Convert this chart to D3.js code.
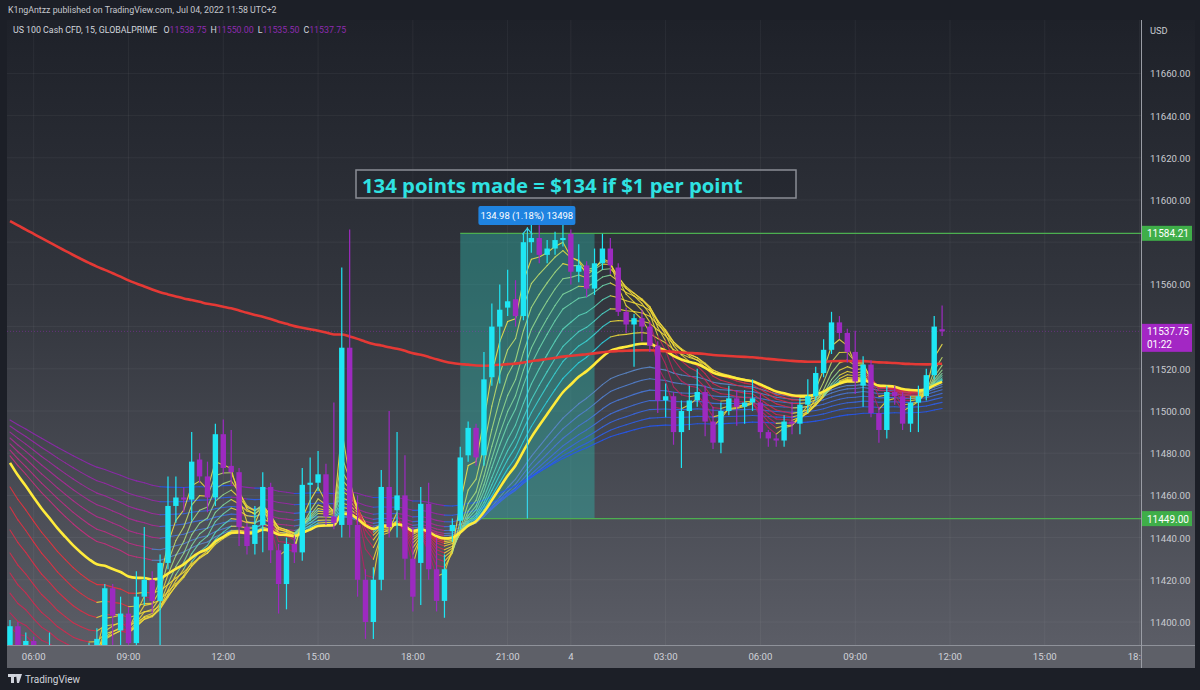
<!DOCTYPE html>
<html>
<head>
<meta charset="utf-8">
<script src="https://cdn.jsdelivr.net/npm/d3@7"></script>
<style>
  body { margin: 0; background: #1c1f27; }
  svg { display: block; font-family: Roboto, "Noto Sans", sans-serif; }
</style>
</head>
<body>
<svg id="chart" width="1200" height="690"></svg>
<script>
// US100 15m bars, first visible bar sits 3 bars before Friday 06:00
const firstPos = -3;

const open = [
  11386, 11398, 11388, 11391, 11380, 11378, 11383, 11376, 11380, 11378,
  11383, 11385, 11388, 11416, 11396, 11404, 11390, 11412, 11420, 11410,
  11428, 11455, 11459, 11458, 11477, 11469, 11459, 11489, 11474, 11471,
  11445, 11437, 11446, 11464, 11434, 11418, 11437, 11433, 11465, 11466,
  11470, 11450, 11446, 11530, 11446, 11420, 11400, 11420, 11464, 11453,
  11460, 11430, 11428, 11456, 11425, 11410, 11443, 11448, 11479, 11492,
  11479, 11516, 11540, 11549, 11553, 11545, 11580, 11582, 11574, 11577,
  11581, 11584, 11566, 11569, 11558, 11570, 11577, 11568, 11547, 11541,
  11544, 11540, 11531, 11505, 11507, 11490, 11500, 11505, 11509, 11495,
  11485, 11500, 11506, 11502, 11504, 11504, 11490, 11487, 11486, 11495,
  11494, 11503, 11507, 11518, 11529, 11542, 11537, 11528, 11512, 11522,
  11499, 11491, 11509, 11507, 11494, 11504, 11507, 11517, 11538.75
];
const high = [
  11401, 11400, 11395, 11393, 11386, 11395, 11388, 11384, 11387, 11386,
  11390, 11397, 11418, 11418, 11412, 11407, 11424, 11445, 11424, 11432,
  11469, 11469, 11464, 11490, 11480, 11476, 11494, 11496, 11491, 11473,
  11447, 11455, 11471, 11466, 11437, 11440, 11441, 11473, 11478, 11481,
  11475, 11504, 11568, 11586, 11460, 11425, 11426, 11472, 11500, 11490,
  11479, 11445, 11464, 11466, 11440, 11432, 11449, 11483, 11495, 11494,
  11528, 11551, 11560, 11567, 11562, 11584, 11590, 11588, 11581, 11585,
  11589, 11586, 11579, 11571, 11577, 11584, 11582, 11570, 11549, 11546,
  11548, 11542, 11533, 11513, 11509, 11505, 11512, 11520, 11512, 11502,
  11504, 11512, 11510, 11510, 11515, 11508, 11491, 11489, 11498, 11504,
  11506, 11515, 11521, 11534, 11547, 11545, 11539, 11538, 11526, 11524,
  11502, 11512, 11512, 11509, 11507, 11512, 11520, 11545, 11550
];
const low = [
  11378, 11380, 11382, 11376, 11372, 11374, 11372, 11368, 11373, 11370,
  11376, 11380, 11380, 11385, 11388, 11385, 11386, 11408, 11404, 11388,
  11425, 11447, 11452, 11448, 11466, 11452, 11455, 11470, 11465, 11436,
  11432, 11432, 11433, 11428, 11404, 11406, 11428, 11429, 11448, 11462,
  11446, 11444, 11440, 11440, 11412, 11392, 11392, 11415, 11440, 11440,
  11420, 11405, 11408, 11420, 11405, 11402, 11438, 11444, 11476, 11474,
  11474, 11512, 11513, 11545, 11540, 11543, 11575, 11570, 11570, 11574,
  11578, 11560, 11561, 11554, 11555, 11567, 11565, 11545, 11537, 11521,
  11533, 11528, 11499, 11497, 11484, 11473, 11491, 11502, 11488, 11482,
  11480, 11498, 11493, 11494, 11500, 11487, 11483, 11483, 11483, 11489,
  11489, 11499, 11505, 11516, 11527, 11534, 11523, 11508, 11502, 11497,
  11485, 11487, 11503, 11491, 11490, 11490, 11505, 11515, 11535.5
];
const close = [
  11398, 11384, 11391, 11380, 11378, 11383, 11376, 11380, 11378, 11383,
  11385, 11392, 11416, 11403, 11404, 11390, 11412, 11420, 11410, 11428,
  11455, 11459, 11458, 11476, 11469, 11459, 11489, 11473, 11471, 11445,
  11436, 11446, 11464, 11434, 11418, 11437, 11433, 11465, 11466, 11470,
  11450, 11447, 11530, 11446, 11420, 11400, 11420, 11464, 11445, 11460,
  11430, 11412, 11456, 11425, 11410, 11425, 11446, 11478, 11492, 11478,
  11515, 11540, 11548, 11552, 11545, 11580, 11582, 11574, 11577, 11581,
  11582, 11566, 11569, 11558, 11570, 11577, 11569, 11547, 11541, 11544,
  11540, 11531, 11505, 11507, 11490, 11500, 11505, 11509, 11495, 11485,
  11500, 11506, 11502, 11504, 11506, 11490, 11487, 11486, 11495, 11494,
  11503, 11507, 11518, 11529, 11542, 11537, 11528, 11514, 11522, 11499,
  11491, 11509, 11507, 11494, 11504, 11507, 11517, 11540, 11537.75
];

// time axis: bar positions (Friday 06:00 = 0) and their labels
const timeTicks = [0, 12, 24, 36, 48, 60, 68, 80, 92, 104, 116, 128, 140];
const timeLabels = ["06:00", "09:00", "12:00", "15:00", "18:00", "21:00", "4",
                    "03:00", "06:00", "09:00", "12:00", "15:00", "18:00"];
const priceTicks = [11400, 11420, 11440, 11460, 11480, 11500, 11520, 11540,
                    11560, 11580, 11600, 11620, 11640, 11660];

// moving average ribbon: periods and their values at the first visible bar
const fastPeriods = [3, 5, 7, 9, 11, 13, 16, 19, 22, 26];
const fastStart = [11386, 11390, 11397.6, 11404.3, 11413.7, 11423.2, 11432.7, 11443.6, 11454.5, 11464.0];
const slowPeriods = [40, 46, 53, 61, 70, 82, 100];
const slowStart = [11478.7, 11481.5, 11484.4, 11487.2, 11490.0, 11492.9, 11495.7];
const refPeriod = 30, refStart = 11475.4;
const trendPeriod = 200, trendStart = 11590;

// price range drawing
const rangeLow = 11449.00, rangeHigh = 11584.21;
const rangeFrom = 54, rangeTo = 71;   // bar positions
const lastPrice = 11537.75;

const W = 1200, H = 690;
const plot = {left: 7, right: 1141, top: 20, bottom: 645};

const svg = d3.select("#chart");
const defs = svg.append("defs");

const bgGrad = defs.append("linearGradient").attr("id", "bg")
  .attr("x1", 0).attr("y1", 0).attr("x2", 0).attr("y2", 1);
bgGrad.append("stop").attr("offset", "0%").attr("stop-color", "#1e2129");
bgGrad.append("stop").attr("offset", "45%").attr("stop-color", "#33363e");
bgGrad.append("stop").attr("offset", "100%").attr("stop-color", "#5b5d66");

defs.append("clipPath").attr("id", "plotClip").append("rect")
  .attr("x", plot.left).attr("y", plot.top)
  .attr("width", plot.right - plot.left).attr("height", plot.bottom - plot.top);
defs.append("clipPath").attr("id", "timeClip").append("rect")
  .attr("x", plot.left).attr("y", plot.bottom).attr("width", plot.right - plot.left).attr("height", 25);

svg.append("rect").attr("width", W).attr("height", H).attr("fill", "#1c1f27");
svg.append("rect").attr("x", plot.left).attr("y", plot.top)
  .attr("width", 1195 - plot.left).attr("height", plot.bottom - plot.top)
  .attr("fill", "url(#bg)");
svg.append("rect").attr("x", plot.left).attr("y", plot.bottom)
  .attr("width", 1195 - plot.left).attr("height", 23).attr("fill", "#5e6068");

const x = d3.scaleLinear().domain([0, 116]).range([33.7, 950]);
const y = d3.scaleLinear().domain([11400, 11600]).range([622, 200]);
const posOf = j => j + firstPos;

// grid
const grid = svg.append("g").attr("clip-path", "url(#plotClip)");
grid.selectAll(".vg").data(timeTicks).join("line")
  .attr("x1", d => x(d)).attr("x2", d => x(d))
  .attr("y1", plot.top).attr("y2", plot.bottom)
  .attr("stroke", "rgba(255,255,255,0.05)");
grid.selectAll(".hg").data(priceTicks).join("line")
  .attr("x1", plot.left).attr("x2", plot.right)
  .attr("y1", d => y(d)).attr("y2", d => y(d))
  .attr("stroke", "rgba(255,255,255,0.05)");

const g = svg.append("g").attr("clip-path", "url(#plotClip)");

// price range box
g.append("rect")
  .attr("x", x(rangeFrom)).attr("y", y(rangeHigh))
  .attr("width", x(rangeTo) - x(rangeFrom)).attr("height", y(rangeLow) - y(rangeHigh))
  .attr("fill", "rgba(45,180,170,0.42)");
[rangeHigh, rangeLow].forEach(p => {
  g.append("line").attr("x1", x(rangeFrom)).attr("x2", plot.right)
    .attr("y1", y(p)).attr("y2", y(p))
    .attr("stroke", "#4caf50").attr("stroke-width", 1.3);
});

// current price line
g.append("line").attr("x1", plot.left).attr("x2", plot.right)
  .attr("y1", y(lastPrice)).attr("y2", y(lastPrice))
  .attr("stroke", "rgba(160,40,200,0.45)").attr("stroke-dasharray", "1,2");

function ema(period, start) {
  const k = 2 / (period + 1);
  const out = [start];
  for (let j = 1; j < close.length; j++) out.push(out[j - 1] + k * (close[j] - out[j - 1]));
  return out;
}

const ref = ema(refPeriod, refStart);
const trend = ema(trendPeriod, trendStart);
const fast = fastPeriods.map((p, i) => ema(p, fastStart[i]));
const slow = slowPeriods.map((p, i) => ema(p, slowStart[i]));

function fastColor(r, j, s) {
  const v = s[j], pv = s[j - 1];
  const rising = v >= pv;
  const refUp = ref[j] - ref[j - 1];
  if (v < ref[j] && !rising) return d3.interpolateRgb("#b81f66", "#f0303c")(r);
  if (v > ref[j] && rising && refUp > 1.2) return d3.interpolateRgb("#f3e64a", "#2bd3e2")(Math.pow(r, 0.7));
  return "#f2dc3a";
}
function slowColor(r, j, s) {
  if (s[j] > ref[j] + 1 && s[j] - s[j - 1] < -0.3) return d3.interpolateRgb("#c42f7c", "#8e27ad")(r);
  return d3.interpolateRgb("#5a86c8", "#2556ee")(r);
}

function drawSegments(series, colorFn, r, width, opacity) {
  const segs = d3.range(1, series.length).map(j => ({j, a: series[j - 1], b: series[j]}));
  g.append("g").selectAll("line").data(segs).join("line")
    .attr("x1", d => x(posOf(d.j - 1))).attr("y1", d => y(d.a))
    .attr("x2", d => x(posOf(d.j))).attr("y2", d => y(d.b))
    .attr("stroke", d => colorFn(r, d.j, series))
    .attr("stroke-width", width).attr("stroke-opacity", opacity)
    .attr("stroke-linecap", "round");
}

slow.forEach((s, i) => drawSegments(s, slowColor, i / (slow.length - 1), 1.1, 0.9));
fast.slice().reverse().forEach((s, i, arr) =>
  drawSegments(s, fastColor, 1 - i / (arr.length - 1), 1.1, 0.85));

const line = d3.line().x((d, j) => x(posOf(j))).y(d => y(d)).curve(d3.curveMonotoneX);
g.append("path").datum(ref).attr("d", line)
  .attr("fill", "none").attr("stroke", "#ffeb3b").attr("stroke-width", 2.6);
g.append("path").datum(trend).attr("d", line)
  .attr("fill", "none").attr("stroke", "#e53935").attr("stroke-width", 2.6);

// candles
const up = "#1ee6f4", down = "#9d2ac0";
const bars = close.map((c, j) => ({pos: posOf(j), o: open[j], h: high[j], l: low[j], c}));
const candle = g.append("g").selectAll("g").data(bars).join("g");
candle.append("line")
  .attr("x1", d => x(d.pos)).attr("x2", d => x(d.pos))
  .attr("y1", d => y(d.h)).attr("y2", d => y(d.l))
  .attr("stroke", d => d.c >= d.o ? up : down).attr("stroke-width", 1.2);
candle.append("rect")
  .attr("x", d => x(d.pos) - 2.7).attr("width", 5.4)
  .attr("y", d => y(Math.max(d.o, d.c)))
  .attr("height", d => Math.max(1.2, Math.abs(y(d.o) - y(d.c))))
  .attr("fill", d => d.c >= d.o ? up : down);

// range arrow and label
const midX = (x(rangeFrom) + x(rangeTo)) / 2;
g.append("line").attr("x1", midX).attr("x2", midX)
  .attr("y1", y(rangeLow)).attr("y2", y(rangeHigh) - 6)
  .attr("stroke", "#37d3ea").attr("stroke-width", 1.2);
g.append("path")
  .attr("d", `M${midX - 5},${y(rangeHigh) + 1} L${midX},${y(rangeHigh) - 5} L${midX + 5},${y(rangeHigh) + 1}`)
  .attr("fill", "none").attr("stroke", "#37d3ea").attr("stroke-width", 1.2);
svg.append("rect").attr("x", midX - 49).attr("y", 206).attr("width", 97).attr("height", 19)
  .attr("rx", 2).attr("fill", "#1f83e0");
svg.append("text").attr("x", midX - 0.5).attr("y", 219).attr("text-anchor", "middle")
  .attr("fill", "#ffffff").attr("font-size", 9.5).text("134.98 (1.18%) 13498");

// note box
svg.append("rect").attr("x", 356).attr("y", 170).attr("width", 440).attr("height", 28)
  .attr("fill", "rgba(28,31,40,0.35)").attr("stroke", "#8a8d95").attr("stroke-width", 1.5);
svg.append("text").attr("x", 362).attr("y", 192.5)
  .attr("fill", "#2fe2e2").attr("font-size", 20.3).attr("font-weight", 700)
  .attr("font-family", "'Open Sans', sans-serif")
  .text("134 points made = $134 if $1 per point");

// axes frame
svg.append("line").attr("x1", plot.left).attr("x2", 1195)
  .attr("y1", plot.bottom + 0.5).attr("y2", plot.bottom + 0.5).attr("stroke", "#8f929a");
svg.append("line").attr("x1", plot.right + 0.5).attr("x2", plot.right + 0.5)
  .attr("y1", plot.top).attr("y2", 668).attr("stroke", "#9a9da5");

// time axis
svg.append("g").attr("clip-path", "url(#timeClip)")
  .selectAll("text").data(timeTicks).join("text")
  .attr("x", d => x(d)).attr("y", 660).attr("text-anchor", "middle")
  .attr("fill", "#d0d2d8").attr("font-size", 9.6)
  .text((d, i) => timeLabels[i]);

// price axis (labels under the price tags stay hidden, as on the chart)
const tagPrices = [11584.21, 11449.00, 11537.75];
const freeTicks = priceTicks.filter(p => tagPrices.every(t => Math.abs(y(p) - y(t)) > 10));
svg.append("g").selectAll("text").data(freeTicks).join("text")
  .attr("x", 1150).attr("y", d => y(d) + 4)
  .attr("fill", "#c9cbd1").attr("font-size", 9.6)
  .text(d => d3.format(".2f")(d));
svg.append("text").attr("x", 1150).attr("y", 34).attr("fill", "#c9cbd1")
  .attr("font-size", 9.3).text("USD");

function priceTag(p, fill, lines) {
  const h = lines.length * 13 + 2;
  svg.append("rect").attr("x", 1142).attr("y", y(p) - 7.5).attr("width", 50).attr("height", h)
    .attr("fill", fill);
  lines.forEach((t, i) => svg.append("text").attr("x", 1147).attr("y", y(p) + 4 + i * 13)
    .attr("fill", "#ffffff").attr("font-size", 10).text(t));
}
priceTag(rangeHigh, "#3fae49", ["11584.21"]);
priceTag(rangeLow, "#3fae49", ["11449.00"]);
priceTag(lastPrice, "#a327c4", ["11537.75", "01:22"]);

// header
svg.append("text").attr("x", 8).attr("y", 13).attr("fill", "#c6c8ce").attr("font-size", 8.8)
  .text("K1ngAntzz published on TradingView.com, Jul 04, 2022 11:58 UTC+2");
const legend = svg.append("text").attr("x", 13).attr("y", 33).attr("font-size", 8.8).attr("fill", "#d1d4dc");
legend.append("tspan").text("US 100 Cash CFD, 15, GLOBALPRIME ");
[["O", "11538.75"], ["H", "11550.00"], ["L", "11535.50"], ["C", "11537.75"]].forEach(([k, v]) => {
  legend.append("tspan").attr("dx", 4).text(k);
  legend.append("tspan").attr("fill", "#8e2bb0").text(v);
});

// footer logo
const logo = svg.append("g").attr("fill", "#d1d4dc");
logo.append("rect").attr("x", 8).attr("y", 674).attr("width", 7).attr("height", 3);
logo.append("rect").attr("x", 11).attr("y", 674).attr("width", 3).attr("height", 9);
logo.append("path").attr("d", "M16,674 L22,674 L19,683 L17,683 Z");
logo.append("circle").attr("cx", 15.8).attr("cy", 675.5).attr("r", 1.4);
svg.append("text").attr("x", 25).attr("y", 683).attr("fill", "#d1d4dc").attr("font-size", 10)
  .text("TradingView");
</script>
</body>
</html>
